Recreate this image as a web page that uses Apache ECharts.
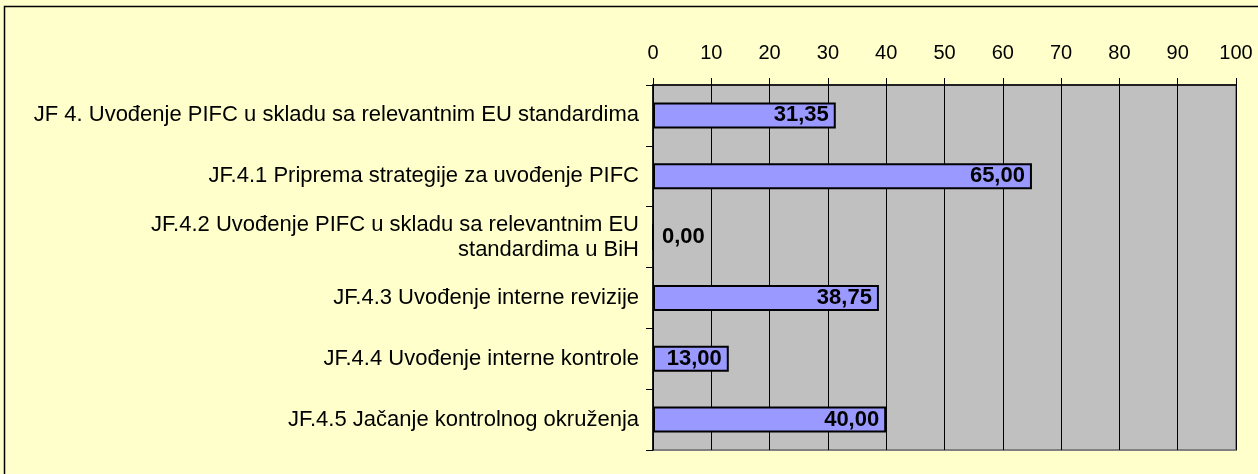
<!DOCTYPE html>
<html>
<head>
  <meta charset="utf-8">
  <title>JF 4 - PIFC</title>
  <script src="https://cdn.jsdelivr.net/npm/echarts@6/dist/echarts.min.js"></script>
  <style>
    html, body {
      margin: 0;
      padding: 0;
      background: #FFFFCC;
    }
    #container {
      width: 1258px;
      height: 474px;
    }
  </style>
</head>
<body>
<div id="container"></div>
<script>
  // kategorije (odozgo prema dolje)
  var categories = [
    'JF 4. Uvođenje PIFC u skladu sa relevantnim EU standardima',
    'JF.4.1 Priprema strategije za uvođenje PIFC',
    'JF.4.2 Uvođenje PIFC u skladu sa relevantnim EU\nstandardima u BiH',
    'JF.4.3 Uvođenje interne revizije',
    'JF.4.4 Uvođenje interne kontrole',
    'JF.4.5 Jačanje kontrolnog okruženja'
  ];
  var values = [31.35, 65.00, 0.00, 38.75, 13.00, 40.00];
  var axisMin = 0;
  var axisMax = 100;
  var axisStep = 10;

  var fontName = '"Liberation Sans", Arial, sans-serif';

  function fmt (v) {
    return v.toFixed(2).replace('.', ',');
  }

  var barData = values.map(function (v) {
    if (v === 0) {
      // prazan stupac - oznaka desno od osi
      return {value: v, label: {position: 'right', distance: 8}};
    }
    return v;
  });

  var myChart = echarts.init(document.getElementById('container'));
  var option = {
    backgroundColor: '#FFFFCC',
    animation: false,
    graphic: [{
      type: 'rect',
      shape: {x: 4.5, y: 6.5, width: 1300, height: 500},
      style: {fill: null, stroke: '#000', lineWidth: 1.5},
      z: 100
    }],
    grid: {
      left: 653,
      right: 22,
      top: 85,
      bottom: 24,
      show: true,
      backgroundColor: '#C0C0C0',
      borderColor: '#808080',
      borderWidth: 2
    },
    xAxis: {
      type: 'value',
      position: 'top',
      min: axisMin,
      max: axisMax,
      interval: axisStep,
      axisLine: {show: true, lineStyle: {color: '#000', width: 1.5}},
      axisTick: {show: true, length: 7, lineStyle: {color: '#000'}},
      axisLabel: {color: '#000', fontSize: 20, fontFamily: fontName, margin: 22},
      splitLine: {show: true, lineStyle: {color: '#000', width: 1}}
    },
    yAxis: {
      type: 'category',
      inverse: true,
      data: categories,
      axisLine: {show: true, lineStyle: {color: '#000', width: 1.5}},
      axisTick: {show: true, length: 7, lineStyle: {color: '#000'}},
      axisLabel: {color: '#000', fontSize: 22, fontFamily: fontName, margin: 14, lineHeight: 25, align: 'right'}
    },
    series: [{
      type: 'bar',
      data: barData,
      barWidth: 26,
      itemStyle: {color: '#9999FF', borderColor: '#000', borderWidth: 2},
      label: {
        show: true,
        position: 'insideRight',
        distance: 7,
        color: '#000',
        fontWeight: 'bold',
        fontSize: 22,
        fontFamily: fontName,
        formatter: function (p) {
          return fmt(p.value);
        }
      }
    }]
  };
  myChart.setOption(option);
</script>
</body>
</html>
